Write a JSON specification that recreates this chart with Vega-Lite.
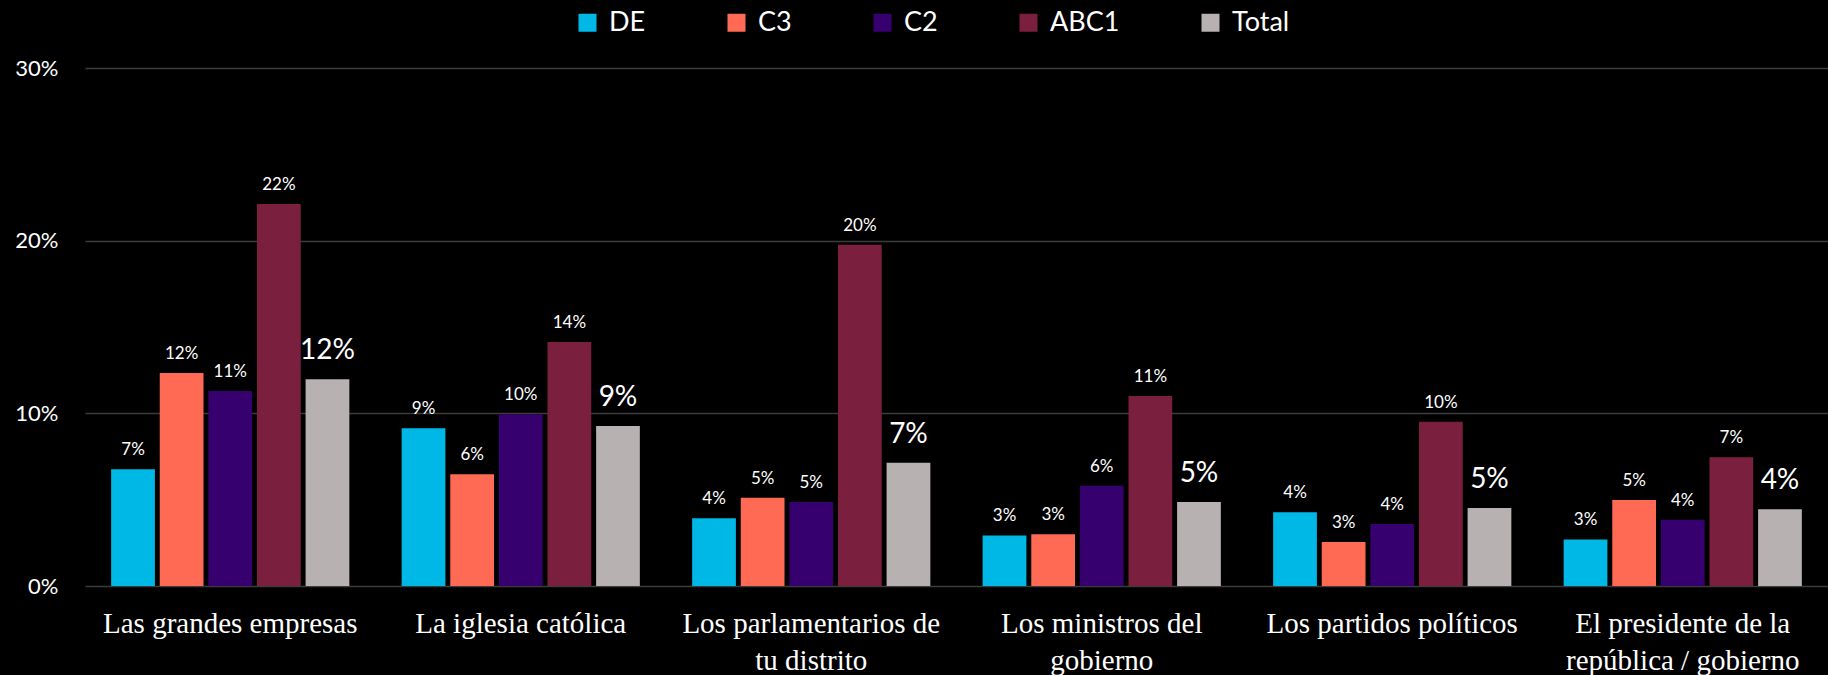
{
  "$schema": "https://vega.github.io/schema/vega-lite/v6.json",
  "width": 1743,
  "height": 518,
  "autosize": {"type": "none"},
  "padding": {"left": 85, "top": 68, "right": 0, "bottom": 89},
  "background": "#000000",
  "config": {
    "view": {"stroke": null},
    "axis": {"grid": false, "domain": false, "ticks": false}
  },
  "data": {
    "values": [
      {"cat": "Las grandes empresas", "grp": "DE", "v": 0.0676},
      {"cat": "Las grandes empresas", "grp": "C3", "v": 0.1233},
      {"cat": "Las grandes empresas", "grp": "C2", "v": 0.1129},
      {"cat": "Las grandes empresas", "grp": "ABC1", "v": 0.2212},
      {"cat": "Las grandes empresas", "grp": "Total", "v": 0.1197},
      {"cat": "La iglesia católica", "grp": "DE", "v": 0.0913},
      {"cat": "La iglesia católica", "grp": "C3", "v": 0.0647},
      {"cat": "La iglesia católica", "grp": "C2", "v": 0.0994},
      {"cat": "La iglesia católica", "grp": "ABC1", "v": 0.1413},
      {"cat": "La iglesia católica", "grp": "Total", "v": 0.0926},
      {"cat": "Los parlamentarios de tu distrito", "grp": "DE", "v": 0.0392},
      {"cat": "Los parlamentarios de tu distrito", "grp": "C3", "v": 0.0511},
      {"cat": "Los parlamentarios de tu distrito", "grp": "C2", "v": 0.0486},
      {"cat": "Los parlamentarios de tu distrito", "grp": "ABC1", "v": 0.1976},
      {"cat": "Los parlamentarios de tu distrito", "grp": "Total", "v": 0.0714},
      {"cat": "Los ministros del gobierno", "grp": "DE", "v": 0.0293},
      {"cat": "Los ministros del gobierno", "grp": "C3", "v": 0.0299},
      {"cat": "Los ministros del gobierno", "grp": "C2", "v": 0.0581},
      {"cat": "Los ministros del gobierno", "grp": "ABC1", "v": 0.11},
      {"cat": "Los ministros del gobierno", "grp": "Total", "v": 0.0486},
      {"cat": "Los partidos políticos", "grp": "DE", "v": 0.0427},
      {"cat": "Los partidos políticos", "grp": "C3", "v": 0.0255},
      {"cat": "Los partidos políticos", "grp": "C2", "v": 0.0359},
      {"cat": "Los partidos políticos", "grp": "ABC1", "v": 0.0951},
      {"cat": "Los partidos políticos", "grp": "Total", "v": 0.0452},
      {"cat": "El presidente de la república / gobierno", "grp": "DE", "v": 0.027},
      {"cat": "El presidente de la república / gobierno", "grp": "C3", "v": 0.0498},
      {"cat": "El presidente de la república / gobierno", "grp": "C2", "v": 0.0384},
      {"cat": "El presidente de la república / gobierno", "grp": "ABC1", "v": 0.0745},
      {"cat": "El presidente de la república / gobierno", "grp": "Total", "v": 0.0444}
    ]
  },
  "encoding": {
    "x": {
      "field": "cat",
      "type": "nominal",
      "sort": null,
      "scale": {"paddingInner": 0.18, "paddingOuter": 0.09},
      "axis": {
        "title": null,
        "labelAngle": 0,
        "labelColor": "#ffffff",
        "labelFont": "Liberation Serif",
        "labelFontSize": 29,
        "labelPadding": 23,
        "labelLineHeight": 37,
        "labelBaseline": "top",
        "labelLimit": 500,
        "labelOverlap": false,
        "labelExpr": "datum.label == 'Los parlamentarios de tu distrito' ? ['Los parlamentarios de', 'tu distrito'] : datum.label == 'Los ministros del gobierno' ? ['Los ministros del', 'gobierno'] : datum.label == 'El presidente de la república / gobierno' ? ['El presidente de la', 'república / gobierno'] : datum.label"
      }
    },
    "xOffset": {
      "field": "grp",
      "type": "nominal",
      "sort": ["DE", "C3", "C2", "ABC1", "Total"],
      "scale": {"paddingInner": 0.1, "paddingOuter": 0}
    },
    "y": {
      "field": "v",
      "type": "quantitative",
      "scale": {"domain": [0, 0.3]},
      "axis": {
        "title": null,
        "format": ".0%",
        "values": [0, 0.1, 0.2, 0.3],
        "grid": true,
        "gridColor": "#3c3c3c",
        "gridWidth": 1.5,
        "labelColor": "#ffffff",
        "labelFont": "Lato",
        "labelFontSize": 22,
        "labelPadding": 27
      }
    }
  },
  "layer": [
    {
      "mark": {"type": "bar"},
      "encoding": {
        "color": {
          "field": "grp",
          "type": "nominal",
          "sort": ["DE", "C3", "C2", "ABC1", "Total"],
          "scale": {
            "domain": ["DE", "C3", "C2", "ABC1", "Total"],
            "range": ["#00B8E6", "#FF6A55", "#36006E", "#7B1F3E", "#B7B1B1"]
          },
          "legend": {
            "title": null,
            "orient": "none",
            "direction": "horizontal",
            "legendX": 489,
            "legendY": -59,
            "padding": 0,
            "symbolType": "square",
            "symbolSize": 324,
            "symbolStrokeWidth": 0,
            "symbolOpacity": 1,
            "labelColor": "#ffffff",
            "labelFont": "Lato",
            "labelFontSize": 27,
            "labelOffset": 8,
            "columnPadding": 77
          }
        }
      }
    },
    {
      "transform": [{"filter": "datum.grp != 'Total'"}],
      "mark": {"type": "text", "baseline": "alphabetic", "dy": -14, "color": "#ffffff", "font": "Lato", "fontSize": 17},
      "encoding": {
        "text": {"field": "v", "type": "quantitative", "format": ".0%"}
      }
    },
    {
      "transform": [{"filter": "datum.grp == 'Total'"}],
      "mark": {"type": "text", "baseline": "alphabetic", "dy": -20, "color": "#ffffff", "font": "Lato", "fontSize": 28},
      "encoding": {
        "text": {"field": "v", "type": "quantitative", "format": ".0%"}
      }
    }
  ]
}
